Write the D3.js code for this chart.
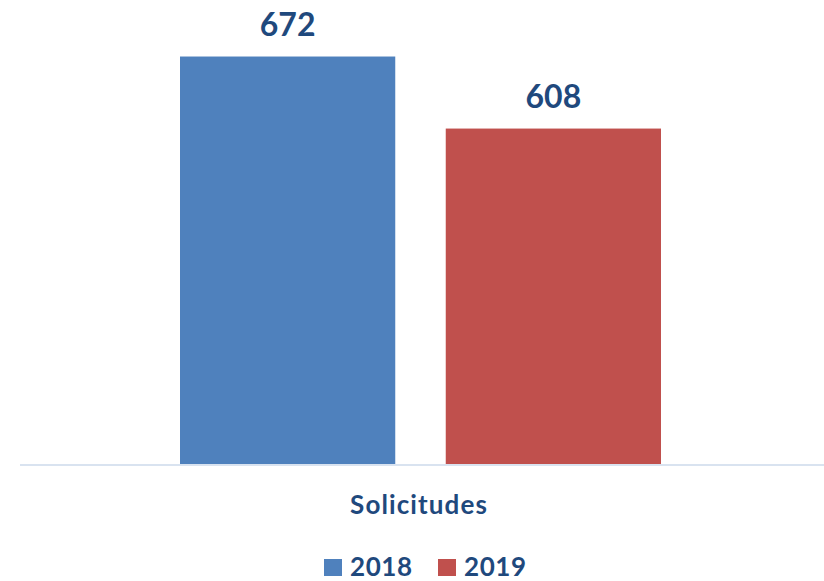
<!DOCTYPE html>
<html lang="es">
<head>
<meta charset="utf-8">
<title>Solicitudes</title>
<script src="https://cdn.jsdelivr.net/npm/d3@7"></script>
<style>
  body { margin: 0; background: #fff; }
  text { font-family: Lato, "Open Sans", sans-serif; font-weight: 700; fill: #1f497d; }
</style>
</head>
<body>
<script>
// data
var categories = ["Solicitudes"];
var years = ["2018", "2019"];
var values = [672, 608];
var colors = ["#4f81bd", "#c0504d"];

var width = 824, height = 581;

var svg = d3.select("body").append("svg")
    .attr("width", width)
    .attr("height", height);

// outer band for the category, inner band for the years
var x0 = d3.scaleBand().domain(categories).range([20, 824]);
var x1 = d3.scaleBand().domain(years).range([180, 661]).paddingInner(0.19);

// value axis does not start at zero in the original
var y = d3.scaleLinear().domain([310, 700]).range([464, 25]);

var bars = svg.append("g");
bars.selectAll("rect")
    .data(values)
    .enter()
    .append("rect")
    .attr("x", function(d, i) { return x1(years[i]); })
    .attr("y", function(d) { return y(d); })
    .attr("width", x1.bandwidth())
    .attr("height", function(d) { return y.range()[0] - y(d); })
    .attr("fill", function(d, i) { return colors[i]; });

// value labels
bars.selectAll("text")
    .data(values)
    .enter()
    .append("text")
    .attr("x", function(d, i) { return x1(years[i]) + x1.bandwidth() / 2; })
    .attr("y", function(d) { return y(d) - 21; })
    .attr("text-anchor", "middle")
    .style("font-size", "32px")
    .text(function(d) { return d; });

// baseline
svg.append("line")
    .attr("x1", x0.range()[0])
    .attr("x2", x0.range()[1])
    .attr("y1", 465)
    .attr("y2", 465)
    .attr("stroke", "#d9e3f0")
    .attr("stroke-width", 2);

// category label
svg.append("text")
    .attr("x", x0("Solicitudes") + x0.bandwidth() / 2 - 3)
    .attr("y", 514)
    .attr("text-anchor", "middle")
    .style("font-size", "26px")
    .style("letter-spacing", "1.1px")
    .text(categories[0]);

// legend
var legendX = [324, 438];
var legend = svg.append("g");
legend.selectAll("rect")
    .data(years)
    .enter()
    .append("rect")
    .attr("x", function(d, i) { return legendX[i]; })
    .attr("y", 559)
    .attr("width", 18)
    .attr("height", 17)
    .attr("fill", function(d, i) { return colors[i]; });

legend.selectAll("text")
    .data(years)
    .enter()
    .append("text")
    .attr("x", function(d, i) { return legendX[i] + 26; })
    .attr("y", 576)
    .style("font-size", "26px")
    .style("letter-spacing", "0.6px")
    .text(function(d) { return d; });
</script>
</body>
</html>
